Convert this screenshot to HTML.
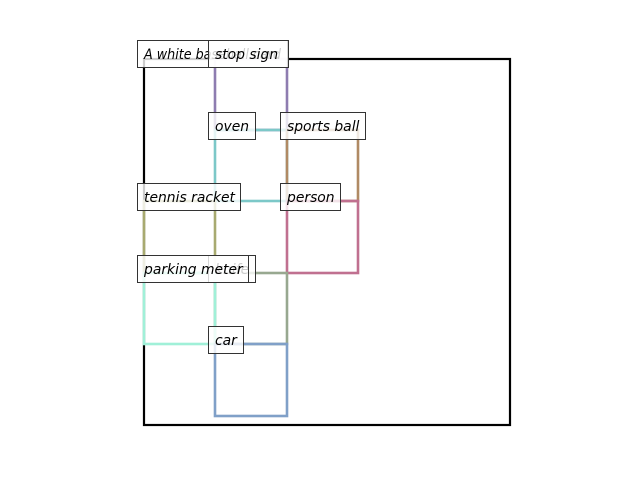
<!DOCTYPE html>
<html><head><meta charset="utf-8"><style>html,body{margin:0;padding:0;background:#fff}</style></head>
<body>
<svg width="640" height="480" xmlns="http://www.w3.org/2000/svg" font-family="DejaVu Sans, Liberation Sans, sans-serif" font-style="italic" font-size="13.9">
<rect x="0" y="0" width="640" height="480" fill="#fff"/>
<g fill="none" stroke-width="2.6">
<rect x="144" y="59" width="366" height="366" stroke="#000" stroke-width="2.2"/>
<rect x="215" y="59" width="72" height="71" stroke="#8e7cb0"/>
<rect x="215" y="130" width="72" height="71" stroke="#7cc8c8"/>
<rect x="287" y="130" width="71" height="71" stroke="#b08a64"/>
<rect x="144" y="201" width="71" height="72" stroke="#a8aa70"/>
<rect x="287" y="201" width="71" height="72" stroke="#c07090"/>
<rect x="215" y="273" width="72" height="71" stroke="#98a890"/>
<rect x="144" y="273" width="71" height="71" stroke="#a0f0d8"/>
<rect x="215" y="344" width="72" height="72" stroke="#80a0c8"/>
</g>
<g stroke="#333" stroke-width="1" fill="#fff" fill-opacity="0.8">
<rect x="137.5" y="40.5" width="150" height="27"/>
<text x="144" y="59" fill="#000" stroke="none" fill-opacity="1" textLength="137" lengthAdjust="spacingAndGlyphs">A white baseball card</text>
<rect x="208.5" y="40.5" width="80" height="27"/>
<text x="215" y="59" fill="#000" stroke="none" fill-opacity="1">stop sign</text>
<rect x="208.5" y="112.5" width="47" height="27"/>
<text x="215" y="131" fill="#000" stroke="none" fill-opacity="1">oven</text>
<rect x="280.5" y="112.5" width="85" height="27"/>
<text x="287" y="131" fill="#000" stroke="none" fill-opacity="1">sports ball</text>
<rect x="137.5" y="183.5" width="103" height="27"/>
<text x="144" y="202" fill="#000" stroke="none" fill-opacity="1">tennis racket</text>
<rect x="280.5" y="183.5" width="60" height="27"/>
<text x="287" y="202" fill="#000" stroke="none" fill-opacity="1">person</text>
<rect x="208.5" y="255.5" width="47" height="27"/>
<text x="215" y="274" fill="#000" stroke="none" fill-opacity="1">knife</text>
<rect x="137.5" y="255.5" width="111" height="27"/>
<text x="144" y="274" fill="#000" stroke="none" fill-opacity="1">parking meter</text>
<rect x="208.5" y="326.5" width="35" height="27"/>
<text x="215" y="345" fill="#000" stroke="none" fill-opacity="1">car</text>
</g>
</svg>
</body></html>
